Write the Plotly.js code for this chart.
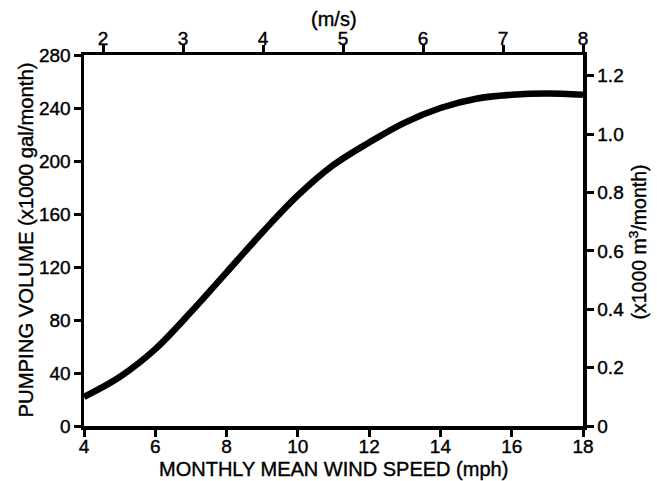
<!DOCTYPE html>
<html>
<head>
<meta charset="utf-8">
<script src="https://cdn.plot.ly/plotly-3.0.1.min.js"></script>
<style>
  html, body { margin: 0; padding: 0; background: #fff; }
  #chart { width: 657px; height: 481px; }
  /* medium-weight lettering */
  #chart svg text { stroke: #000; stroke-width: 0.4px; }
</style>
</head>
<body>
<div id="chart"></div>
<script>
// Monthly mean wind speed (mph) and resulting pumping volume (x1000 gal/month)
const windMph = [4, 5, 6, 7, 8, 9, 10, 11, 12, 13, 14, 15, 16, 17, 18];
const volumeGal = [22, 37, 58, 86, 116, 146, 174, 197, 214, 229, 240, 247, 250, 251, 250];

// Axis tick labels
const mphTicks = [4, 6, 8, 10, 12, 14, 16, 18];
const galTicks = [0, 40, 80, 120, 160, 200, 240, 280];
const msTicks = [2, 3, 4, 5, 6, 7, 8];
const m3Ticks = [0, 0.2, 0.4, 0.6, 0.8, 1.0, 1.2];
const m3Labels = ["0", "0.2", "0.4", "0.6", "0.8", "1.0", "1.2"];

const FONT = "Liberation Sans, Arial, sans-serif";
const tickFont = { family: FONT, size: 19, color: "#000" };
const titleFont = (size) => ({ family: FONT, size: size, color: "#000" });

const axisCommon = {
  showline: true, linecolor: "#000", linewidth: 3.5,
  ticks: "outside", ticklen: 7, tickwidth: 3, tickcolor: "#000",
  showgrid: false, zeroline: false, tickfont: tickFont,
  fixedrange: true
};

const trace = {
  x: windMph, y: volumeGal,
  type: "scatter", mode: "lines",
  line: { color: "#000", width: 6.5, shape: "spline", smoothing: 1 },
  hoverinfo: "skip", cliponaxis: true
};

// Invisible helper traces so the secondary axes are drawn
const topHelper = { x: [2, 8], y: [0, 0], xaxis: "x2", yaxis: "y", mode: "markers",
  marker: { opacity: 0 }, hoverinfo: "skip", showlegend: false };
const rightHelper = { x: [4, 18], y: [0, 0], xaxis: "x", yaxis: "y2", mode: "markers",
  marker: { opacity: 0 }, hoverinfo: "skip", showlegend: false };

const layout = {
  width: 657, height: 481,
  margin: { l: 84, r: 74, t: 55, b: 55, pad: 0 },
  paper_bgcolor: "#fff", plot_bgcolor: "#fff",
  showlegend: false,
  xaxis: Object.assign({}, axisCommon, {
    range: [4, 18], tickvals: mphTicks, ticklabelstandoff: -6
  }),
  yaxis: Object.assign({}, axisCommon, {
    range: [0, 280], tickvals: galTicks, ticklabelstandoff: -1
  }),
  xaxis2: Object.assign({}, axisCommon, {
    overlaying: "x", side: "top", range: [1.7625, 8], tickvals: msTicks, ticklabelstandoff: -8
  }),
  yaxis2: Object.assign({}, axisCommon, {
    overlaying: "y", side: "right", range: [0, 1.271],
    tickvals: m3Ticks, ticktext: m3Labels
  }),
  // axis titles
  annotations: [
    { text: "MONTHLY MEAN WIND SPEED (mph)", xref: "paper", yref: "paper", x: 0.5, y: 0, yshift: -43,
      xanchor: "center", yanchor: "middle", showarrow: false, font: titleFont(20) },
    { text: "PUMPING VOLUME (x1000 gal/month)", xref: "paper", yref: "paper", x: 0, y: 0.5, xshift: -59, yshift: 0,
      textangle: -90, xanchor: "center", yanchor: "middle", showarrow: false, font: titleFont(20.3) },
    { text: "(x1000 m<sup>3</sup>/month)", xref: "paper", yref: "paper", x: 1, y: 0.5, xshift: 54, yshift: -2,
      textangle: -90, xanchor: "center", yanchor: "middle", showarrow: false, font: titleFont(19.5) },
    { text: "(m/s)", xref: "paper", yref: "paper", x: 0.5, y: 1, yshift: 36, borderpad: 0,
      xanchor: "center", yanchor: "middle", showarrow: false, font: titleFont(20) }
  ]
};

Plotly.newPlot("chart", [trace, topHelper, rightHelper], layout, { displayModeBar: false, staticPlot: true });
</script>
</body>
</html>
